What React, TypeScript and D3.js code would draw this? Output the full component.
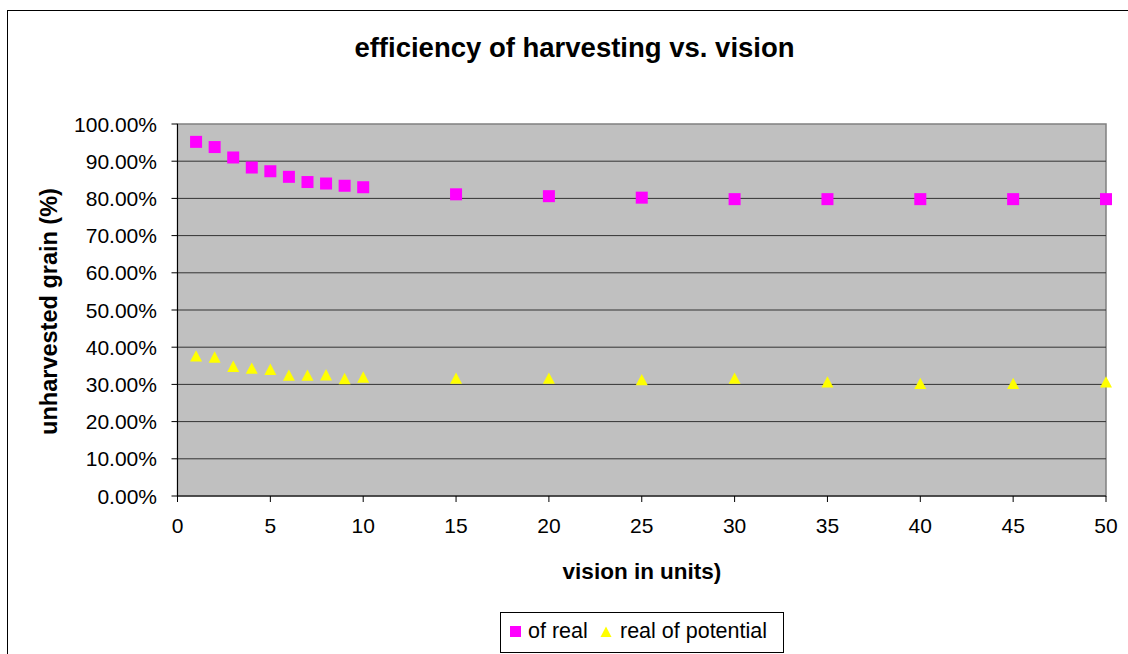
import React from "react";
import * as d3 from "d3";

const visions = [1, 2, 3, 4, 5, 6, 7, 8, 9, 10, 15, 20, 25, 30, 35, 40, 45, 50];
const ofReal = [95.2, 93.8, 91.0, 88.3, 87.3, 85.8, 84.4, 84.0, 83.4, 83.0, 81.1, 80.6, 80.2, 79.8, 79.8, 79.8, 79.8, 79.8];
const realOfPotential = [37.6, 37.3, 34.8, 34.3, 34.0, 32.4, 32.4, 32.5, 31.5, 31.9, 31.6, 31.6, 31.2, 31.6, 30.6, 30.2, 30.2, 30.6];
const xTicks = [0, 5, 10, 15, 20, 25, 30, 35, 40, 45, 50];
const yTicks = [0, 10, 20, 30, 40, 50, 60, 70, 80, 90, 100];

const L = 177.5, R = 1106, T = 124, B = 496;
const font = "Arial, 'Liberation Sans', sans-serif";

export default function App() {
  const x = d3.scaleLinear().domain([0, 50]).range([L, R]);
  const y = d3.scaleLinear().domain([0, 100]).range([B, T]);
  const tri = (cx: number, cy: number, s = 12) =>
    `M${cx},${cy - s * 0.5}L${cx + s * 0.5},${cy + s * 0.45}L${cx - s * 0.5},${cy + s * 0.45}Z`;
  return (
    <svg width={1128} height={654} style={{ position: "absolute", left: 0, top: 0, fontFamily: font }}>
      <rect x={0} y={0} width={1128} height={654} fill="#fff" />
      <rect x={7.5} y={10.5} width={1130} height={660} fill="#fff" stroke="#000" strokeWidth={1} />
      <text x={574.5} y={57} textAnchor="middle" fontSize={27.5} fontWeight="bold">efficiency of harvesting vs. vision</text>
      <rect x={L} y={T} width={R - L} height={B - T} fill="#c0c0c0" stroke="#808080" strokeWidth={1.5} />
      {yTicks.filter(v => v > 0 && v < 100).map(v => (
        <line key={v} x1={L} x2={R} y1={y(v)} y2={y(v)} stroke="#333" strokeWidth={1} />
      ))}
      <line x1={L} x2={L} y1={T} y2={B} stroke="#000" />
      <line x1={L} x2={R} y1={B} y2={B} stroke="#000" />
      {yTicks.map(v => (
        <g key={v}>
          <line x1={L - 6} x2={L} y1={y(v)} y2={y(v)} stroke="#000" />
          <text x={157} y={y(v) + 7.5} textAnchor="end" fontSize={21}>{v.toFixed(2)}%</text>
        </g>
      ))}
      {xTicks.map(v => (
        <g key={v}>
          <line x1={x(v)} x2={x(v)} y1={B} y2={B + 6} stroke="#000" />
          <text x={x(v)} y={532.5} textAnchor="middle" fontSize={21}>{v}</text>
        </g>
      ))}
      <text x={642} y={579} textAnchor="middle" fontSize={22.5} fontWeight="bold">vision in units)</text>
      <text transform={`translate(57,311.5) rotate(-90)`} textAnchor="middle" fontSize={23.5} fontWeight="bold">unharvested grain (%)</text>
      {visions.map((v, i) => (
        <rect key={"s" + i} x={x(v) - 6} y={y(ofReal[i]) - 6} width={12} height={12} fill="#ff00ff" />
      ))}
      {visions.map((v, i) => (
        <path key={"t" + i} d={tri(x(v), y(realOfPotential[i]))} fill="#ffff00" />
      ))}
      <rect x={500.5} y={612.5} width={283} height={40} fill="#fff" stroke="#000" />
      <rect x={510} y={626} width={11} height={11} fill="#ff00ff" />
      <text x={528} y={638} fontSize={21.5}>of real</text>
      <path d={tri(606, 632, 11)} fill="#ffff00" />
      <text x={620} y={638} fontSize={21.5}>real of potential</text>
    </svg>
  );
}
